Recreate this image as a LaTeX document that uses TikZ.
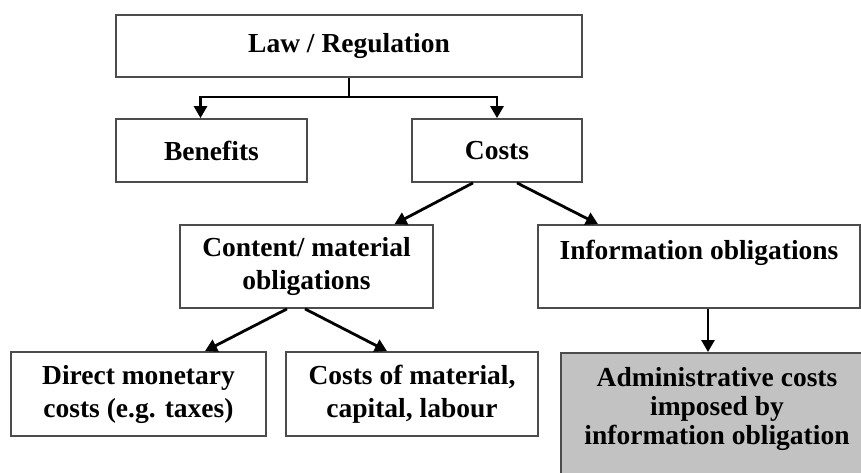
\documentclass[tikz,border=0pt]{standalone}
\usepackage{fontspec}
\setmainfont{Liberation Serif}
\usetikzlibrary{arrows.meta}
\begin{document}
\begin{tikzpicture}[x=1pt,y=-1pt,
  box/.style={draw=black!70, line width=1.8pt, fill=white, align=center, inner sep=0pt,
    font=\bfseries\fontsize{27.5}{33}\selectfont},
  arr/.style={line width=2.8pt, -{Triangle[length=12pt,width=13pt]}},
  link/.style={line width=2.8pt}]
\useasboundingbox (0,0) rectangle (861,472);
\fill[white] (0,0) rectangle (861,472);
\node[box, minimum width=466pt, minimum height=62pt] (law) at (349,46) {Law / Regulation};
\node[box, minimum width=191pt, minimum height=63pt] (ben) at (211.5,150.5) {Benefits};
\node[box, minimum width=170pt, minimum height=63pt] (costs) at (497,150.5) {Costs};
\node[box, minimum width=253pt, minimum height=83pt] (content) at (306.5,266.5) {Content/ material\\obligations};
\node[box, minimum width=322pt, minimum height=83pt] (info) at (699,266.5) {Information obligations\\\phantom{x}};
\node[box, minimum width=255pt, minimum height=84pt] (direct) at (138.5,394) {Direct monetary\\costs (e.g. taxes)};
\node[box, minimum width=252pt, minimum height=84pt] (mat) at (412,394) {Costs of material,\\capital, labour};
\node[box, fill=black!24, minimum width=314pt, minimum height=140pt, anchor=north west] (adminbox) at (560,352) {};
\node[align=center, inner sep=0pt, font=\bfseries\fontsize{27.5}{29}\selectfont] (admin) at (717,409)
  {Administrative costs\\imposed by\\information obligation};
% law to benefits / costs
\coordinate (j) at (law.south |- 0,97);
\draw[link] (law.south) -- (j);
\draw[arr] (j) -| ([xshift=-11pt]ben.north);
\draw[arr] (j) -| (costs.north);
% costs to content / info
\draw[arr] ([xshift=-24pt]costs.south) -- ([xshift=88pt]content.north);
\draw[arr] ([xshift=20pt]costs.south) -- ([xshift=-101pt]info.north);
% content to direct / material
\draw[arr] ([xshift=-19.5pt]content.south) -- ([xshift=66.5pt]direct.north);
\draw[arr] ([xshift=-1.5pt]content.south) -- ([xshift=-25pt]mat.north);
% info to admin
\draw[arr] ([xshift=9pt]info.south) -- ([xshift=9pt]info.south |- adminbox.north);
\end{tikzpicture}
\end{document}
